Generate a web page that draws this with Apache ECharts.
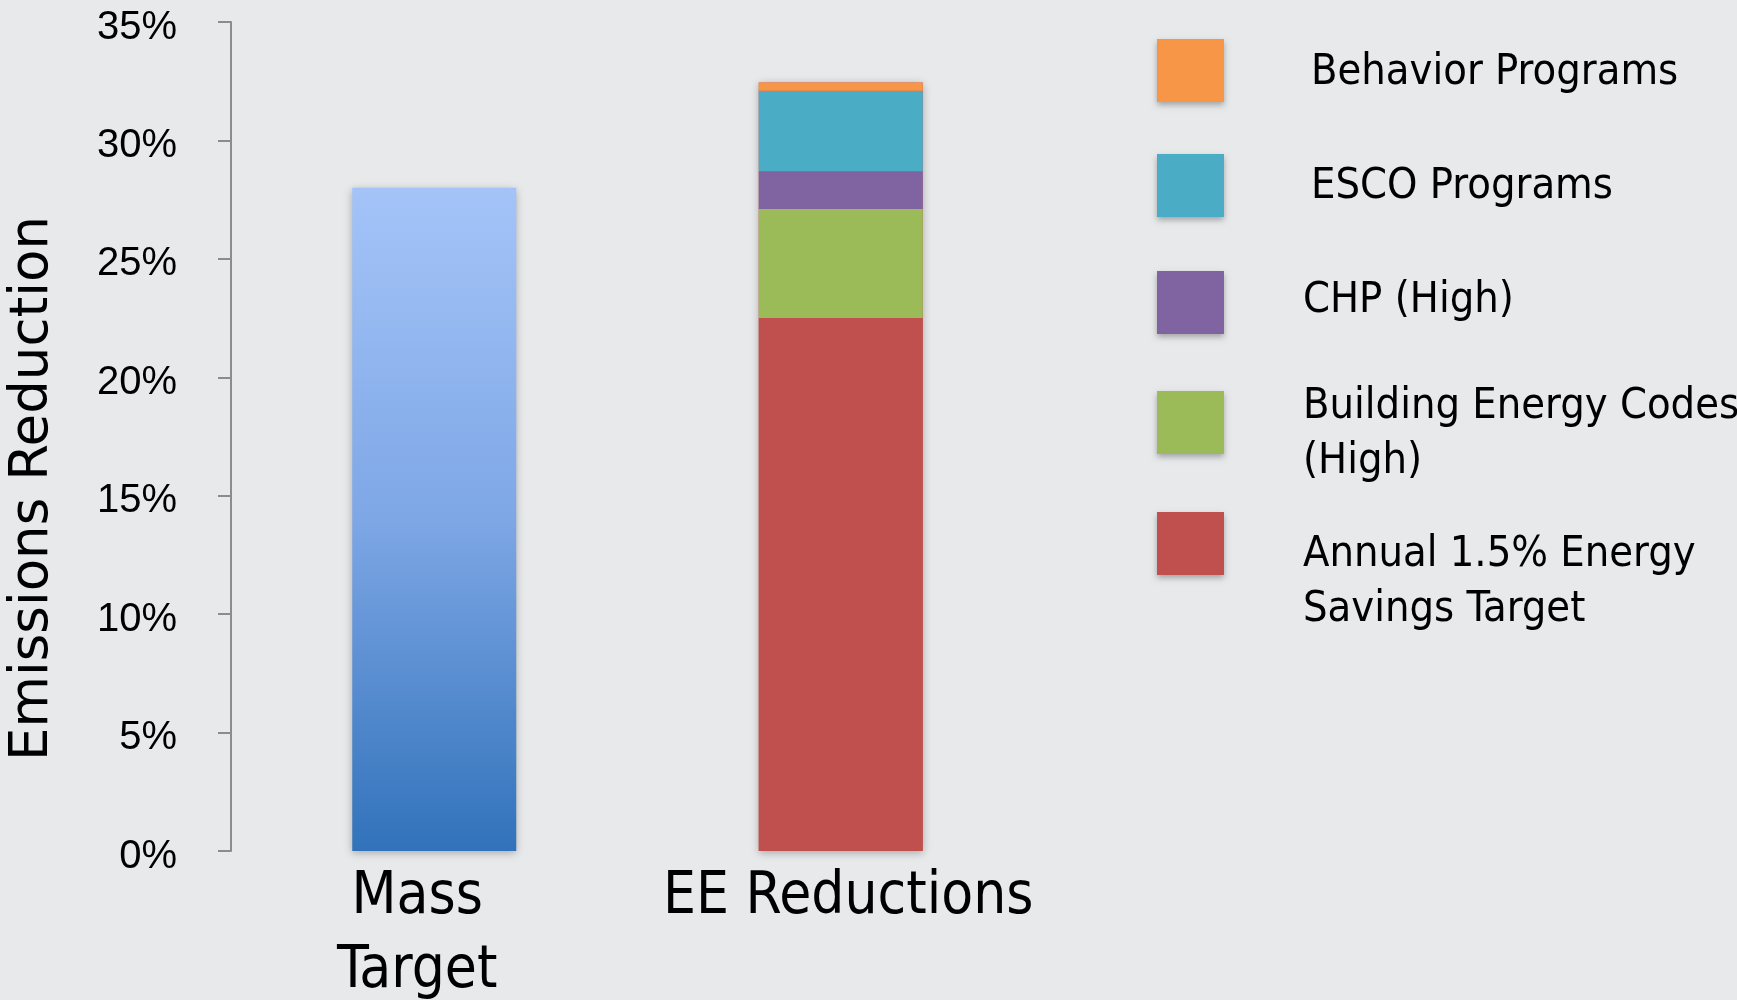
<!DOCTYPE html>
<html>
<head>
<meta charset="utf-8">
<script src="https://cdn.jsdelivr.net/npm/echarts@6/dist/echarts.min.js"></script>
<style>
  html, body { margin: 0; padding: 0; background: #e8e9eb; }
  #chart { width: 1737px; height: 1000px; }
</style>
</head>
<body>
<div id="chart"></div>
<script>
// Categories on the x axis
const categories = ['Mass\nTarget', 'EE Reductions'];

// Mass-based emissions target (% reduction)
const massTarget = [28.0, '-'];

// Energy-efficiency reductions, stacked bottom to top (% reduction)
const annualSavings = ['-', 22.5];
const buildingCodes = ['-', 4.6];
const chpHigh = ['-', 1.6];
const escoPrograms = ['-', 3.4];
const behaviorPrograms = ['-', 0.35];

// Y axis ticks
const yMin = 0, yMax = 35, yStep = 5;

// Legend entries, top to bottom
const legendNames = [
  'Behavior Programs',
  'ESCO Programs',
  'CHP (High)',
  'Building Energy Codes\n(High)',
  'Annual 1.5% Energy\nSavings Target'
];

const colors = {
  behavior: '#f79646',
  esco: '#4bacc6',
  chp: '#8064a2',
  codes: '#9bbb59',
  annual: '#c0504d'
};

const condensed = '"DejaVu Sans Condensed", "Liberation Sans Narrow", "Roboto", sans-serif';

// Total height of the stacked column, used for its drop shadow
const eeTotal = [annualSavings, buildingCodes, chpHigh, escoPrograms, behaviorPrograms]
  .map(a => a[1]).reduce((s, v) => s + v, 0);
const stackShadow = ['-', eeTotal];

const barW = 164;
const shadowStyle = { shadowBlur: 8, shadowColor: 'rgba(0,0,0,0.28)', shadowOffsetY: 2 };

function stackSeries(name, data, color) {
  return {
    name, type: 'bar', stack: 'total', data, barWidth: barW,
    itemStyle: { color }, z: 3
  };
}

// Legend: one swatch-only legend and one text-only legend per entry
const swatchH = 63, lineH = 55;
const swatchTops = [39, 154, 271, 391, 512];
const textTops = [45, 159, 273, 379, 527];
const textLefts = [1306, 1306, 1298, 1298, 1298];

const swatchLegends = legendNames.map((n, i) => ({
  show: true,
  data: [n],
  left: 1157,
  top: swatchTops[i],
  padding: 0,
  itemWidth: 67,
  itemHeight: swatchH,
  icon: 'rect',
  selectedMode: false,
  formatter: () => '',
  itemStyle: { shadowBlur: 6, shadowColor: 'rgba(0,0,0,0.3)', shadowOffsetY: 3 }
}));

const textLegends = legendNames.map((n, i) => ({
  show: true,
  data: [n],
  left: textLefts[i],
  top: textTops[i],
  padding: 0,
  itemWidth: 0,
  itemHeight: 10,
  icon: 'none',
  selectedMode: false,
  textStyle: {
    fontFamily: condensed,
    fontSize: 43,
    lineHeight: lineH,
    color: '#000'
  }
}));

// Category labels sit slightly off the bar centres
const categoryData = [
  { value: categories[0], textStyle: { padding: [0, 34, 0, 0] } },
  { value: categories[1], textStyle: { padding: [0, 0, 0, 15] } }
];

const chart = echarts.init(document.getElementById('chart'));
chart.setOption({
  backgroundColor: '#e8e9eb',
  animation: false,
  legend: swatchLegends.concat(textLegends),
  grid: { left: 231, right: 693, top: 22, bottom: 149, outerBoundsMode: 'none', containLabel: false },
  xAxis: {
    type: 'category',
    data: categoryData,
    axisLine: { show: false },
    axisTick: { show: false },
    axisLabel: {
      interval: 0,
      margin: 10,
      fontFamily: condensed,
      fontSize: 58,
      lineHeight: 74,
      color: '#000',
      verticalAlign: 'top'
    }
  },
  yAxis: {
    type: 'value',
    min: yMin, max: yMax, interval: yStep,
    name: 'Emissions Reduction',
    nameLocation: 'middle',
    nameRotate: 90,
    nameGap: 171,
    nameTextStyle: {
      fontFamily: '"DejaVu Sans", sans-serif', fontSize: 53, color: '#000',
      padding: [0, 104, 0, 0]
    },
    splitLine: { show: false },
    axisLine: { show: true, lineStyle: { color: '#8c8c8c', width: 2 } },
    axisTick: { show: true, inside: false, length: 13, lineStyle: { color: '#8c8c8c', width: 2 } },
    axisLabel: {
      margin: 54,
      formatter: '{value}%',
      fontFamily: '"Liberation Sans", Arial, sans-serif',
      fontSize: 40,
      color: '#000',
      verticalAlign: 'top',
      lineHeight: 11
    }
  },
  series: [
    {
      name: 'Mass Target', type: 'bar', stack: 'total', data: massTarget, barWidth: barW, z: 3,
      itemStyle: Object.assign({
        color: new echarts.graphic.LinearGradient(0, 0, 0, 1, [
          { offset: 0, color: '#a4c4f8' },
          { offset: 0.5, color: '#7ea7e6' },
          { offset: 1, color: '#3172ba' }
        ])
      }, shadowStyle)
    },
    {
      name: 'shadow', type: 'bar', data: stackShadow, barWidth: barW, barGap: '-100%', z: 2,
      itemStyle: Object.assign({ color: colors.annual }, shadowStyle),
      silent: true
    },
    stackSeries(legendNames[4], annualSavings, colors.annual),
    stackSeries(legendNames[3], buildingCodes, colors.codes),
    stackSeries(legendNames[2], chpHigh, colors.chp),
    stackSeries(legendNames[1], escoPrograms, colors.esco),
    stackSeries(legendNames[0], behaviorPrograms, colors.behavior)
  ]
});
</script>
</body>
</html>
